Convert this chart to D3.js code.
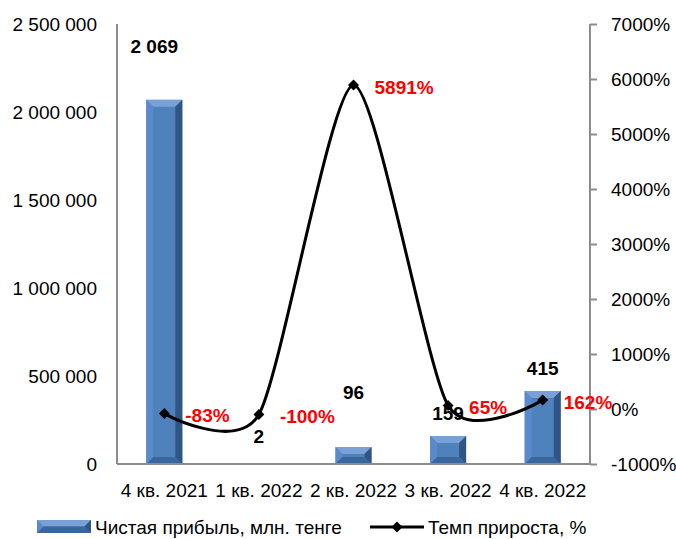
<!DOCTYPE html>
<html><head><meta charset="utf-8">
<script src="https://cdn.jsdelivr.net/npm/d3@7"></script>
<style>body{margin:0;background:#fff}svg{font-family:"Liberation Sans",Arial,sans-serif}</style>
</head><body><svg id="c" width="676" height="539"></svg>
<script>
const categories = ["4 кв. 2021","1 кв. 2022","2 кв. 2022","3 кв. 2022","4 кв. 2022"];
const profit = [2069000, 2000, 96000, 159000, 415000];
const profitLabels = ["2 069","2","96","159","415"];
const growth = [-83, -100, 5891, 65, 162];
const growthLabels = ["-83%","-100%","5891%","65%","162%"];
const leftTicks = [0,500000,1000000,1500000,2000000,2500000];
const rightTicks = [-1000,0,1000,2000,3000,4000,5000,6000,7000];
const legendLabels = ["Чистая прибыль, млн. тенге","Темп прироста, %"];

const svg = d3.select("#c");
const L=117, R=590, T=24, B=464;
const x = d3.scaleBand().domain(categories).range([L,R]);
const yL = d3.scaleLinear().domain([0,2500000]).range([B,T]);
const yR = d3.scaleLinear().domain([-1000,7000]).range([B,T]);
const fmt = d => d3.format(",")(d).replace(/,/g," ");
const FS = 19;

function bevelBar(g, x0, y0, w, h){
  const bv = Math.min(7, w/2, h/2);
  g.append("rect").attr("x",x0).attr("y",y0).attr("width",w).attr("height",h).attr("fill","#4f81bd");
  g.append("polygon").attr("points",[[x0,y0],[x0+w,y0],[x0+w-bv,y0+bv],[x0+bv,y0+bv]].join(" ")).attr("fill","#79a1d6");
  g.append("polygon").attr("points",[[x0,y0],[x0+bv,y0+bv],[x0+bv,y0+h-bv],[x0,y0+h]].join(" ")).attr("fill","#5a8acb");
  g.append("polygon").attr("points",[[x0+w,y0],[x0+w,y0+h],[x0+w-bv,y0+h-bv],[x0+w-bv,y0+bv]].join(" ")).attr("fill","#2f5584");
  g.append("polygon").attr("points",[[x0,y0+h],[x0+bv,y0+h-bv],[x0+w-bv,y0+h-bv],[x0+w,y0+h]].join(" ")).attr("fill","#3a669e");
}

// bars
const bw = 36;
const barG = svg.append("g");
profit.forEach((v,i)=>{
  const cx = x(categories[i]) + x.bandwidth()/2;
  const y0 = yL(v), h = B - y0;
  if (h > 1) bevelBar(barG, cx-bw/2, y0, bw, h);
});

// axes
const axisColor = "#8c8c8c";
svg.append("line").attr("x1",L).attr("x2",L).attr("y1",T).attr("y2",B).attr("stroke",axisColor).attr("stroke-width",2);
svg.append("line").attr("x1",R).attr("x2",R).attr("y1",T).attr("y2",B).attr("stroke",axisColor).attr("stroke-width",2);
svg.append("line").attr("x1",L).attr("x2",R).attr("y1",B).attr("y2",B).attr("stroke",axisColor).attr("stroke-width",2);

const gl = svg.append("g").attr("transform",`translate(${L},0)`).call(d3.axisLeft(yL).tickValues(leftTicks).tickFormat(fmt).tickSize(0).tickPadding(20));
gl.select(".domain").remove();
gl.selectAll("text").attr("font-size",FS).attr("fill","#000").attr("font-family","Liberation Sans, Arial, sans-serif");

const gr = svg.append("g").attr("transform",`translate(${R},0)`).call(d3.axisRight(yR).tickValues(rightTicks).tickFormat(d=>d+"%").tickSize(7).tickPadding(14));
gr.select(".domain").remove();
gr.selectAll("line").attr("stroke",axisColor).attr("stroke-width",2);
gr.selectAll("text").attr("font-size",FS).attr("fill","#000").attr("font-family","Liberation Sans, Arial, sans-serif");

const gx = svg.append("g").attr("transform",`translate(0,${B})`).call(d3.axisBottom(x).tickSize(0).tickPadding(20));
gx.select(".domain").remove();
gx.selectAll("text").attr("font-size",FS).attr("fill","#000").attr("font-family","Liberation Sans, Arial, sans-serif");

// line
const pts = growth.map((v,i)=>[x(categories[i])+x.bandwidth()/2, yR(v)]);
const line = d3.line().curve(d3.curveCardinal.tension(0.3));
svg.append("path").attr("d",line(pts)).attr("fill","none").attr("stroke","#000").attr("stroke-width",3);
svg.selectAll(".mk").data(pts).join("path")
  .attr("d", d3.symbol().type(d3.symbolSquare).size(60)).attr("transform",d=>`translate(${d[0]},${d[1]}) rotate(45)`).attr("fill","#000");

// profit labels
profit.forEach((v,i)=>{
  let cx = x(categories[i]) + x.bandwidth()/2;
  let yy;
  if (i===0) { yy = T + 22; cx -= 10; }
  else if (i===1) yy = yL(v) - 27;
  else if (i===2) yy = yL(v) - 55;
  else yy = yL(v) - 23;
  svg.append("text").attr("x",cx).attr("y",yy).attr("dy","0.35em").attr("text-anchor","middle")
    .attr("font-size",FS).attr("font-weight","bold").attr("fill","#000").text(profitLabels[i]);
});

// growth labels
growth.forEach((v,i)=>{
  svg.append("text").attr("x",pts[i][0]+21).attr("y",pts[i][1]+2).attr("dy","0.35em")
    .attr("font-size",FS).attr("font-weight","bold").attr("fill","#ff0000").text(growthLabels[i]);
});

// legend
const lg = svg.append("g");
bevelBar(lg, 37, 520, 54, 13);
lg.append("text").attr("x",95).attr("y",527).attr("dy","0.35em").attr("font-size",FS).attr("fill","#000").text(legendLabels[0]);
lg.append("line").attr("x1",370).attr("x2",424).attr("y1",527).attr("y2",527).attr("stroke","#000").attr("stroke-width",3);
lg.append("path").attr("d",d3.symbol().type(d3.symbolSquare).size(60)).attr("transform","translate(397,527) rotate(45)").attr("fill","#000");
lg.append("text").attr("x",428).attr("y",527).attr("dy","0.35em").attr("font-size",FS).attr("fill","#000").text(legendLabels[1]);
</script></body></html>
